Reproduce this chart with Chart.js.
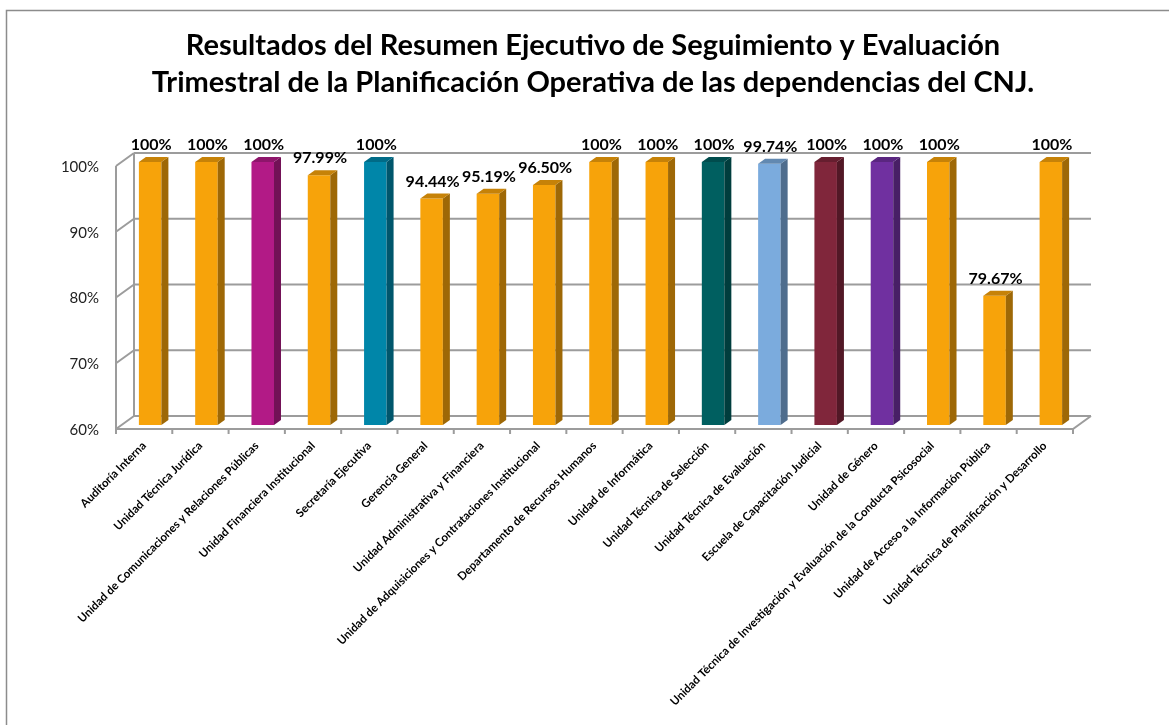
<!DOCTYPE html>
<html>
<head>
<meta charset="utf-8">
<script src="https://cdn.jsdelivr.net/npm/chart.js@4.4.1/dist/chart.umd.min.js"></script>
<style>
  body { margin: 0; background: #fff; }
  canvas { display: block; }
</style>
</head>
<body>
<canvas id="chart" width="1169" height="725"></canvas>
<script>
// Data
const titleLines = [
  'Resultados del Resumen Ejecutivo de Seguimiento y Evaluación',
  'Trimestral de la Planificación Operativa de las dependencias del CNJ.'
];
const categories = [
  'Auditoría Interna',
  'Unidad Técnica Jurídica',
  'Unidad de Comunicaciones y Relaciones Públicas',
  'Unidad Financiera Institucional',
  'Secretaría Ejecutiva',
  'Gerencia General',
  'Unidad Administrativa y Financiera',
  'Unidad de Adquisiciones y Contrataciones Institucional',
  'Departamento de Recursos Humanos',
  'Unidad de Informática',
  'Unidad Técnica de Selección',
  'Unidad Técnica de Evaluación',
  'Escuela de Capacitación Judicial',
  'Unidad de Género',
  'Unidad Técnica de Investigación y Evaluación de la Conducta Psicosocial',
  'Unidad de Acceso a la Información Pública',
  'Unidad Técnica de Planificación y Desarrollo'
];
const values = [100, 100, 100, 97.99, 100, 94.44, 95.19, 96.50, 100, 100, 100, 99.74, 100, 100, 100, 79.67, 100];
const yTicks = [60, 70, 80, 90, 100];

const ORANGE = '#F7A30A';
const barColors = [
  ORANGE, ORANGE, '#B21A86', ORANGE, '#0086A9', ORANGE, ORANGE, ORANGE, ORANGE,
  ORANGE, '#005F60', '#7BABDD', '#80263B', '#7030A0', ORANGE, ORANGE, ORANGE
];

// darken a hex colour by a factor
function shade(hex, f) {
  const n = parseInt(hex.slice(1), 16);
  const r = Math.round(((n >> 16) & 255) * f);
  const g = Math.round(((n >> 8) & 255) * f);
  const b = Math.round((n & 255) * f);
  return `rgb(${r},${g},${b})`;
}

const DEPTH_X = 7, DEPTH_Y = 5;       // bar side/top faces
const FRONT = { x: -6, y: 4 };        // front axis plane, relative to bar plane
const BACK = { x: 12, y: -9 };        // back wall plane
const LINE = '#9C9C9C';

const wallsPlugin = {
  id: 'walls',
  beforeDraw(chart) {
    const ctx = chart.ctx;
    ctx.save();
    ctx.fillStyle = '#fff';
    ctx.fillRect(0, 0, chart.width, chart.height);
    ctx.strokeStyle = '#8C8C8C';
    ctx.lineWidth = 1.5;
    ctx.beginPath();
    ctx.moveTo(6.5, chart.height);
    ctx.lineTo(6.5, 10.5);
    ctx.lineTo(chart.width, 10.5);
    ctx.stroke();
    ctx.restore();
  },
  beforeDatasetsDraw(chart) {
    const ctx = chart.ctx;
    const { left, right, top, bottom } = chart.chartArea;
    const y = chart.scales.y;
    ctx.save();
    ctx.strokeStyle = LINE;
    ctx.lineWidth = 2;
    ctx.beginPath();
    yTicks.forEach(v => {
      const py = y.getPixelForValue(v);
      ctx.moveTo(left + BACK.x, py + BACK.y);
      ctx.lineTo(right + BACK.x, py + BACK.y);
      ctx.moveTo(left + FRONT.x, py + FRONT.y);
      ctx.lineTo(left + BACK.x, py + BACK.y);
    });
    // left wall verticals
    ctx.moveTo(left + FRONT.x, top + FRONT.y);
    ctx.lineTo(left + FRONT.x, bottom + FRONT.y);
    ctx.moveTo(left + BACK.x, top + BACK.y);
    ctx.lineTo(left + BACK.x, bottom + BACK.y);
    // floor
    ctx.moveTo(left + FRONT.x, bottom + FRONT.y);
    ctx.lineTo(right + FRONT.x, bottom + FRONT.y);
    ctx.lineTo(right + BACK.x, bottom + BACK.y);
    // category tick marks
    const slot = (right - left) / categories.length;
    for (let k = 0; k <= categories.length; k++) {
      const px = left + FRONT.x + k * slot;
      ctx.moveTo(px, bottom + FRONT.y);
      ctx.lineTo(px, bottom + FRONT.y + 5);
    }
    ctx.stroke();
    ctx.restore();
  },
  afterDatasetsDraw(chart) {
    const ctx = chart.ctx;
    const meta = chart.getDatasetMeta(0);
    const floor = chart.chartArea.bottom;
    ctx.save();
    meta.data.forEach((bar, i) => {
      const { x, y, base, width } = bar.getProps(['x', 'y', 'base', 'width'], true);
      const b = Math.min(base, floor);
      const l = x - width / 2, r = x + width / 2;
      const c = barColors[i];
      // side face
      ctx.fillStyle = shade(c, 0.64);
      ctx.beginPath();
      ctx.moveTo(r, y);
      ctx.lineTo(r + DEPTH_X, y - DEPTH_Y);
      ctx.lineTo(r + DEPTH_X, b - DEPTH_Y);
      ctx.lineTo(r, b);
      ctx.closePath();
      ctx.fill();
      // top face
      ctx.fillStyle = shade(c, 0.8);
      ctx.beginPath();
      ctx.moveTo(l, y);
      ctx.lineTo(l + DEPTH_X, y - DEPTH_Y);
      ctx.lineTo(r + DEPTH_X, y - DEPTH_Y);
      ctx.lineTo(r, y);
      ctx.closePath();
      ctx.fill();
      // value label
      const v = values[i];
      ctx.fillStyle = '#000';
      ctx.font = 'bold 16px Lato';
      ctx.textAlign = 'center';
      ctx.textBaseline = 'middle';
      ctx.fillText((v === 100 ? '100' : v.toFixed(2)) + '%', x + 1, y - 17);
    });
    ctx.restore();
  }
};

new Chart(document.getElementById('chart'), {
  type: 'bar',
  data: {
    labels: categories,
    datasets: [{
      data: values,
      backgroundColor: barColors,
      borderWidth: 0,
      barPercentage: 0.4,
      categoryPercentage: 1.0
    }]
  },
  plugins: [wallsPlugin],
  options: {
    responsive: false,
    animation: false,
    layout: { padding: { left: 17, right: 0, top: 0, bottom: 0 } },
    plugins: {
      legend: { display: false },
      tooltip: { enabled: false },
      title: {
        display: true,
        text: titleLines,
        color: '#000',
        font: { family: 'Lato', size: 29, weight: 'bold', lineHeight: 1.276 },
        padding: { top: 27, bottom: 61 }
      }
    },
    scales: {
      x: {
        grid: { display: false, drawTicks: false },
        border: { display: false },
        ticks: {
          autoSkip: false,
          maxRotation: 45,
          minRotation: 45,
          labelOffset: -6,
          padding: 14,
          color: '#000',
          font: { family: 'Lato', size: 11.5, weight: 'bold' }
        },
        afterFit(scale) { scale.height = 300; }
      },
      y: {
        min: 60,
        max: 100,
        grid: { display: false, drawTicks: false },
        border: { display: false },
        ticks: {
          stepSize: 10,
          padding: 23,
          labelOffset: 5,
          color: '#222',
          font: { family: 'Lato', size: 15 },
          callback: v => v + '%'
        },
        afterFit(scale) { scale.width = 105; }
      },
      // empty right-hand box that keeps the plot off the right edge
      yRight: {
        position: 'right',
        min: 0,
        max: 1,
        grid: { display: false, drawTicks: false },
        border: { display: false },
        ticks: { display: false },
        afterFit(scale) { scale.width = 90; }
      }
    }
  }
});
</script>
</body>
</html>
